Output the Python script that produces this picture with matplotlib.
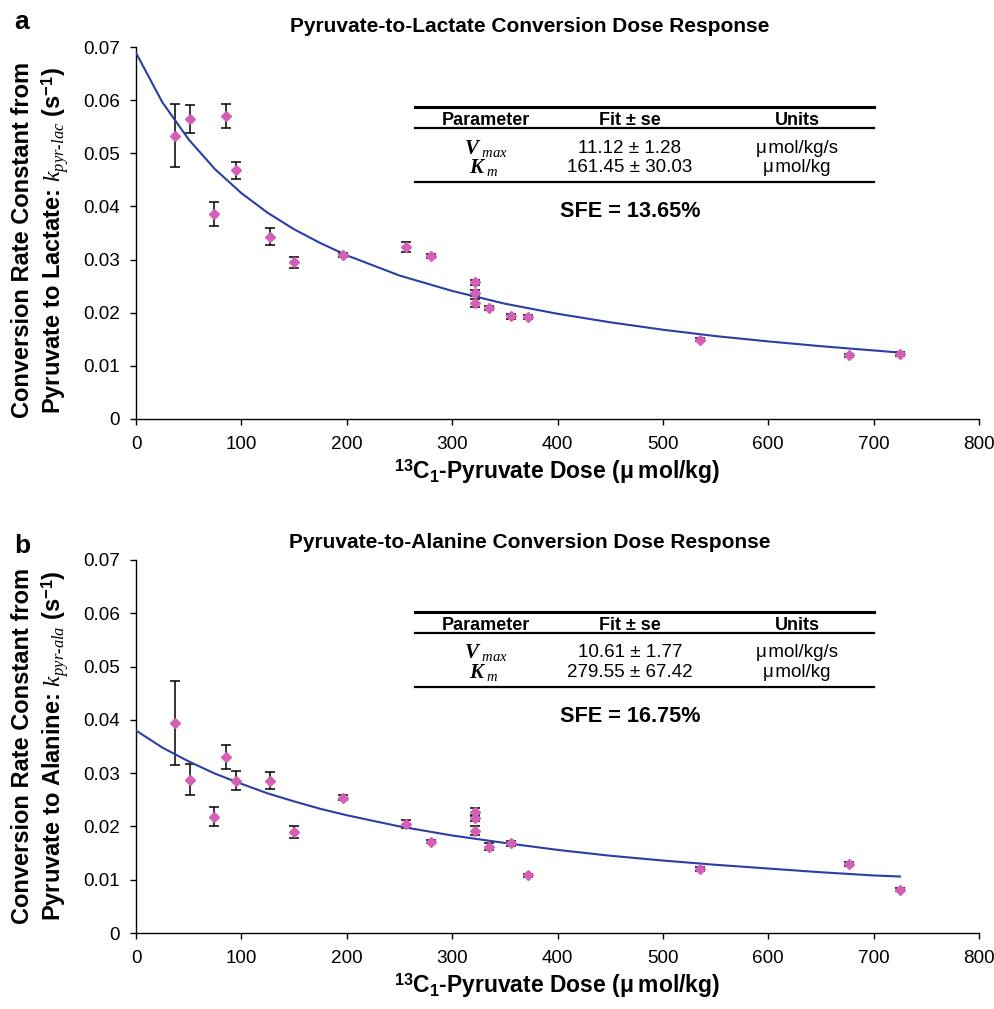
import matplotlib
matplotlib.use('Agg')
from matplotlib import pyplot as plt

# doses (umol/kg) shared by both panels
dose = [37, 51, 74, 85, 95, 127, 150, 196, 256, 280, 322, 322, 322, 335, 356, 372, 535, 677, 725]

k_lac = [0.0533, 0.0565, 0.0386, 0.0570, 0.0468, 0.0343, 0.0295, 0.0309, 0.0324, 0.0307,
         0.0257, 0.0237, 0.0218, 0.0209, 0.0193, 0.0192, 0.0149, 0.0120, 0.0122]
se_lac = [0.0059, 0.0026, 0.0022, 0.0023, 0.0016, 0.0016, 0.0010, 0.0004, 0.0009, 0.0004,
          0.0005, 0.0005, 0.0007, 0.0004, 0.0004, 0.0003, 0.0003, 0.0003, 0.0004]

k_ala = [0.0394, 0.0288, 0.0218, 0.0330, 0.0286, 0.0286, 0.0190, 0.0254, 0.0205, 0.0171,
         0.0228, 0.0215, 0.0192, 0.0162, 0.0168, 0.0108, 0.0120, 0.0130, 0.0081]
se_ala = [0.0079, 0.0029, 0.0018, 0.0023, 0.0018, 0.0016, 0.0011, 0.0005, 0.0008, 0.0003,
          0.0007, 0.0005, 0.0008, 0.0006, 0.0005, 0.0003, 0.0003, 0.0004, 0.0003]

# fitted curves
fit_dose = [0, 25, 50, 75, 100, 125, 150, 175, 200, 250, 300, 350, 400, 450, 500, 550, 600, 650, 700, 725]
fit_lac = [0.0689, 0.0596, 0.0526, 0.0470, 0.0425, 0.0388, 0.0357, 0.0331, 0.0308, 0.0270,
           0.0241, 0.0217, 0.0198, 0.0182, 0.0168, 0.0156, 0.0146, 0.0137, 0.0129, 0.0125]
fit_ala = [0.0380, 0.0348, 0.0322, 0.0299, 0.0280, 0.0262, 0.0247, 0.0233, 0.0221, 0.0200,
           0.0183, 0.0169, 0.0156, 0.0145, 0.0136, 0.0128, 0.0121, 0.0114, 0.0108, 0.0106]

titles = ['Pyruvate-to-Lactate Conversion Dose Response', 'Pyruvate-to-Alanine Conversion Dose Response']
panel_labels = ['a', 'b']
ylab_2 = ['Pyruvate to Lactate: $k_{pyr\u2010lac}$ (s$^{\\mathrm{-1}}$)',
          'Pyruvate to Alanine: $k_{pyr\u2010ala}$ (s$^{\\mathrm{-1}}$)']
fit_vals = [['11.12 \u00b1 1.28', '161.45 \u00b1 30.03'], ['10.61 \u00b1 1.77', '279.55 \u00b1 67.42']]
units = ['\u03bc\u200amol/kg/s', '\u03bc\u200amol/kg']
sfe = ['SFE = 13.65%', 'SFE = 16.75%']
xticks = [0, 100, 200, 300, 400, 500, 600, 700, 800]
yticks = [0, 0.01, 0.02, 0.03, 0.04, 0.05, 0.06, 0.07]
ytick_labels = ['0', '0.01', '0.02', '0.03', '0.04', '0.05', '0.06', '0.07']

plt.rcParams['font.family'] = 'Liberation Sans'
plt.rcParams['mathtext.fontset'] = 'custom'
plt.rcParams['mathtext.rm'] = 'Liberation Sans:bold'
plt.rcParams['mathtext.it'] = 'Liberation Serif:italic'
plt.rcParams['mathtext.bf'] = 'Liberation Serif:bold:italic'

W, H = 995, 1009
fig = plt.figure(figsize=(W / 100, H / 100), dpi=100)

# axes boxes in pixels: left, top, right, bottom
boxes = [(136, 47, 979, 419), (136, 560, 979, 933)]
# baselines (px) of panel letter and title, centre (px) of y label
letter_y = [29, 553]
title_y = [32, 548]
ylab_c = [240, 746]
# table rows (axes fraction y): top line, header line, bottom line, header, vmax, km, sfe
rows = [(0.839, 0.781, 0.636, 0.802, 0.728, 0.676, 0.557),
        (0.860, 0.804, 0.660, 0.824, 0.751, 0.698, 0.580)]

data = [(k_lac, se_lac, fit_lac), (k_ala, se_ala, fit_ala)]

for i in range(2):
    l, t, r, b = boxes[i]
    ax = fig.add_axes([l / W, 1 - b / H, (r - l) / W, (b - t) / H])
    k, se, fit = data[i]

    ax.errorbar(dose, k, yerr=se, fmt='none', ecolor='black', elinewidth=1.1,
                capsize=3.8, capthick=1.1, zorder=2)
    ax.plot(fit_dose, fit, color='#2b3fa3', lw=1.5, zorder=3)
    ax.plot(dose, k, 'D', color='#d35fb7', ms=5.2, mec='#d35fb7', zorder=4)

    ax.set_xlim(0, 800)
    ax.set_ylim(0, 0.07)
    ax.set_xticks(xticks)
    ax.set_yticks(yticks)
    ax.set_yticklabels(ytick_labels)
    ax.spines['top'].set_visible(False)
    ax.spines['right'].set_visible(False)
    for s in ['left', 'bottom']:
        ax.spines[s].set_linewidth(1.0)
    ax.tick_params(direction='out', length=4.5, width=1.0, labelsize=13.6)
    ax.tick_params(axis='y', pad=7)
    ax.tick_params(axis='x', pad=8)

    ax.set_xlabel('$^{\\mathrm{13}}$C$_{\\mathrm{1}}$-Pyruvate Dose (\u03bc\u2009mol/kg)',
                  fontsize=16.5, fontweight='bold', labelpad=3)

    # title and panel letter
    fig.text(530 / W, 1 - title_y[i] / H, titles[i], ha='center', va='baseline',
             fontsize=15, fontweight='bold')
    fig.text(22 / W, 1 - letter_y[i] / H, panel_labels[i], ha='center', va='baseline',
             fontsize=19, fontweight='bold')

    # two line y label
    yc = 1 - ylab_c[i] / H
    fig.text(23 / W, yc, 'Conversion Rate Constant from', rotation=90, ha='center', va='center',
             fontsize=17, fontweight='bold')
    fig.text(55 / W, yc, ylab_2[i], rotation=90, ha='center', va='center',
             fontsize=17, fontweight='bold')

    # parameter table
    y_top, y_head, y_bot, y_h, y_v, y_k, y_s = rows[i]
    x0, x1 = 0.331, 0.876
    ax.plot([x0, x1], [y_top, y_top], transform=ax.transAxes, color='black', lw=2.2, clip_on=False)
    ax.plot([x0, x1], [y_head, y_head], transform=ax.transAxes, color='black', lw=1.6, clip_on=False)
    ax.plot([x0, x1], [y_bot, y_bot], transform=ax.transAxes, color='black', lw=1.6, clip_on=False)
    c1, c2, c3 = 0.415, 0.586, 0.784
    ax.text(c1, y_h, 'Parameter', transform=ax.transAxes, ha='center', va='center',
            fontsize=13, fontweight='bold')
    ax.text(c2, y_h, 'Fit \u00b1 se', transform=ax.transAxes, ha='center', va='center',
            fontsize=13, fontweight='bold')
    ax.text(c3, y_h, 'Units', transform=ax.transAxes, ha='center', va='center',
            fontsize=13, fontweight='bold')
    ax.text(0.415, y_v, '$\\mathbf{V}_{\\ max}$', transform=ax.transAxes, ha='center', va='center',
            fontsize=15)
    ax.text(0.413, y_k, '$\\mathbf{K}_{\\ m}$', transform=ax.transAxes, ha='center', va='center',
            fontsize=15)
    ax.text(c2, y_v, fit_vals[i][0], transform=ax.transAxes, ha='center', va='center', fontsize=13.5)
    ax.text(c2, y_k, fit_vals[i][1], transform=ax.transAxes, ha='center', va='center', fontsize=13.5)
    ax.text(c3, y_v, units[0], transform=ax.transAxes, ha='center', va='center', fontsize=13.5)
    ax.text(c3, y_k, units[1], transform=ax.transAxes, ha='center', va='center', fontsize=13.5)
    ax.text(c2, y_s, sfe[i], transform=ax.transAxes, ha='center', va='center',
            fontsize=15.6, fontweight='bold')

fig.savefig('out.png', dpi=100)
